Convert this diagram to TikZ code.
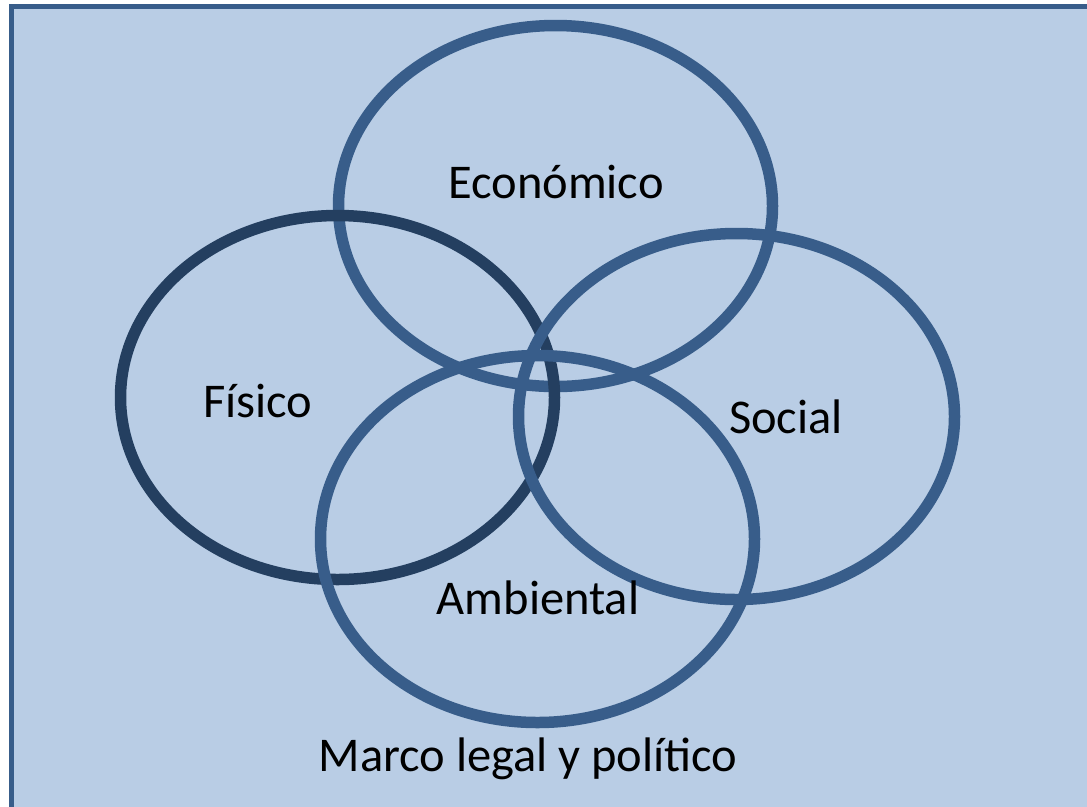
\documentclass[tikz,border=0pt]{standalone}
\usepackage{fontspec}
\setmainfont{Carlito}
\usetikzlibrary{positioning}

\definecolor{fondo}{HTML}{B9CDE5}
\definecolor{azul}{HTML}{385D8A}
\definecolor{oscuro}{HTML}{243F60}

\tikzset{
  anillo/.style={line width=0.23cm, azul},
  etiqueta/.style={font=\fontsize{27.6}{32}\selectfont, text=black, inner sep=0pt}
}

\begin{document}
\begin{tikzpicture}[x=0.02cm, y=-0.02cm]
	\useasboundingbox (0,0) rectangle (1087,806);
	% Background frame
	\begin{scope}
		\clip (0,0) rectangle (1087,806);
		\draw[fill=fondo, draw=azul, line width=0.11cm] (11.5,6.5) rectangle (1095,812);
	\end{scope}
	
	% Rings (drawing order gives the overlaps)
	\draw[anillo] (555.5,206) ellipse [x radius=217, y radius=180.5];
	\draw[anillo, oscuro] (337.5,397.5) ellipse [x radius=217, y radius=182];
	\draw[anillo] (736.5,416.5) ellipse [x radius=218, y radius=183];
	\draw[anillo] (537.5,539) ellipse [x radius=217, y radius=183.5];
	
	% Labels
	\node[etiqueta] (economico) at (556,182) {Económico};
	\node[etiqueta] (fisico) at (258,401) {Físico};
	\node[etiqueta] (social) at (786,417) {Social};
	\node[etiqueta] (ambiental) at (538,598) {Ambiental};
	\node[etiqueta] (marco) at (528,759) {Marco legal y político};
\end{tikzpicture}
\end{document}
